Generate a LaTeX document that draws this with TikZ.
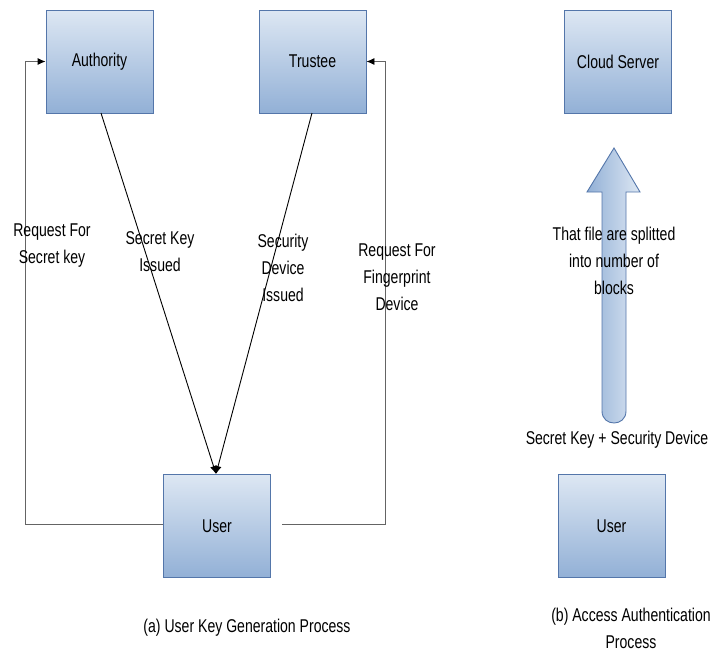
\documentclass[tikz,border=0pt]{standalone}
\usepackage{fontspec}
\setmainfont[FakeStretch=0.76]{Liberation Sans}
\usetikzlibrary{arrows.meta}
\definecolor{boxborder}{RGB}{84,118,170}
\definecolor{boxtop}{RGB}{221,231,243}
\definecolor{boxbot}{RGB}{146,176,214}
\definecolor{connc}{RGB}{100,100,100}
\tikzset{
  box/.style={draw=boxborder, line width=0.9pt, top color=boxtop, bottom color=boxbot,
    minimum width=107pt, minimum height=103pt, inner sep=0pt, font=\fontsize{18.5}{27}\selectfont},
  conn/.style={draw=connc, line width=0.9pt},
  diag/.style={draw=black, line width=0.9pt},
  tip/.style={-{Latex[length=8pt,width=7pt,color=black]}},
  lbl/.style={align=center, inner sep=0pt, font=\fontsize{18.5}{27}\selectfont}
}
\begin{document}
\begin{tikzpicture}[x=1pt,y=-1pt]
\useasboundingbox (0,0) rectangle (712,653);
% boxes
\node[box] (auth) at (99.5,61.5) {Authority};
\node[box] (trus) at (312.5,61.5) {Trustee};
\node[box] (cloud) at (618,62) {Cloud Server};
\node[box] (userl) at (217,526) {User};
\node[box] (userr) at (611.5,526) {User};
% connector helpers
\coordinate (lcorner) at (25,524);
\coordinate (rstart) at (282,524);
\coordinate (rcorner) at (385,524);
\coordinate (a1) at (101,113);
\coordinate (t1) at (312,113);
\coordinate (u1) at (216,474);
% connectors
\draw[conn, tip] (userl.west |- lcorner) -- (lcorner) |- (auth.west);
\draw[conn, tip] (rstart) -- (rcorner) |- (trus.east);
\draw[diag, tip] (a1) -- (u1);
\draw[diag, tip] (t1) -- (u1);
% block arrow
\coordinate (bl) at (602,411);
\coordinate (br) at (626,411);
\path[draw=boxborder, line width=0.9pt, left color=boxbot, right color=boxtop]
  (602,192) -- (587,192) -- (614,148) -- (640,192) -- (626,192) -- (br)
  .. controls (626,427) and (602,427) .. (bl) -- cycle;
% labels
\node[lbl] (l1) at (52,246) {Request For\\Secret key};
\node[lbl] (l2) at (160,252) {Secret Key\\Issued};
\node[lbl] (l3) at (283,268) {Security\\Device\\Issued};
\node[lbl] (l4) at (397,277) {Request For\\Fingerprint\\Device};
\node[lbl] (l5) at (614,261) {That file are splitted\\into number of\\blocks};
\node[lbl] (l6) at (617,440) {Secret Key + Security Device};
\node[lbl] (l7) at (247,628) {(a) User Key Generation Process};
\node[lbl] (l8) at (631,628) {(b) Access Authentication\\Process};
\end{tikzpicture}
\end{document}
